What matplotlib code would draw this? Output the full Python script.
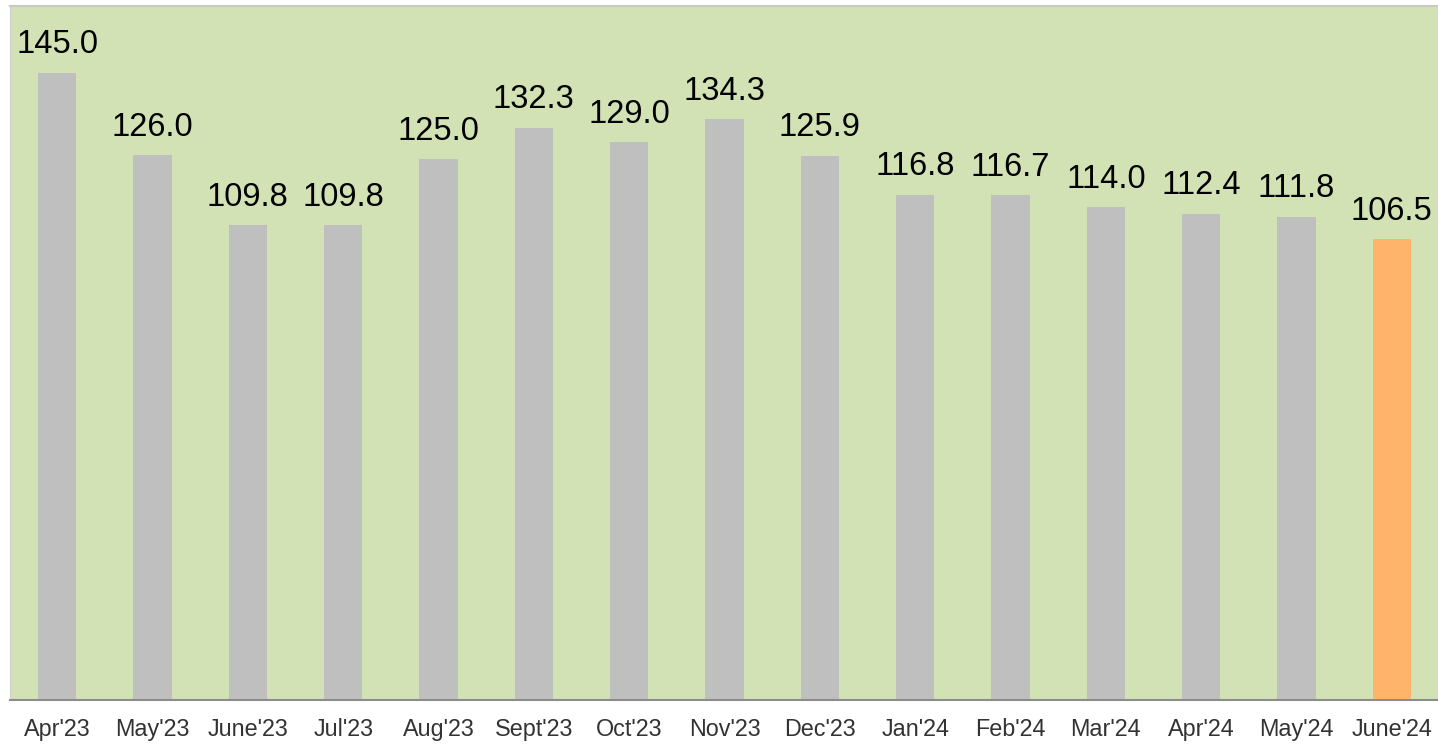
import numpy as np
import matplotlib.pyplot as plt

plt.rcParams['font.family'] = ['Liberation Sans', 'DejaVu Sans']

months = ["Apr'23", "May'23", "June'23", "Jul'23", "Aug'23", "Sept'23", "Oct'23",
          "Nov'23", "Dec'23", "Jan'24", "Feb'24", "Mar'24", "Apr'24", "May'24", "June'24"]
values = [145.0, 126.0, 109.8, 109.8, 125.0, 132.3, 129.0,
          134.3, 125.9, 116.8, 116.7, 114.0, 112.4, 111.8, 106.5]

colors = ['#BFBFBF'] * (len(values) - 1) + ['#FFB46B']

fig = plt.figure(figsize=(14.38, 7.44), dpi=100)
ax = fig.add_axes([9.5 / 1438, 0.059, 1430 / 1438, 0.933])
ax.set_facecolor('#D3E2B4')

x = np.arange(len(months))
ax.bar(x, values, width=0.4, color=colors, zorder=2)

for xi, v in zip(x, values):
    ax.annotate(f'{v:.1f}', (xi, v), xytext=(0, 9), textcoords='offset points',
                ha='center', va='bottom', fontsize=23.5, color='black')

ax.set_xlim(-0.5, 14.5)
ax.set_ylim(0, 160.5)
ax.set_xticks(x)
ax.set_xticklabels(months, fontsize=16.8, color='#333333')
ax.tick_params(axis='x', length=0, pad=13)
ax.set_yticks([])

ax.spines['bottom'].set_color('#8C8C8C')
ax.spines['bottom'].set_linewidth(1.5)
ax.spines['left'].set_color('#D0D0D0')
ax.spines['top'].set_color('#C8C8C8')
ax.spines['top'].set_linewidth(1.5)
ax.spines['right'].set_visible(False)

fig.savefig('out.png', dpi=100)
plt.close()
